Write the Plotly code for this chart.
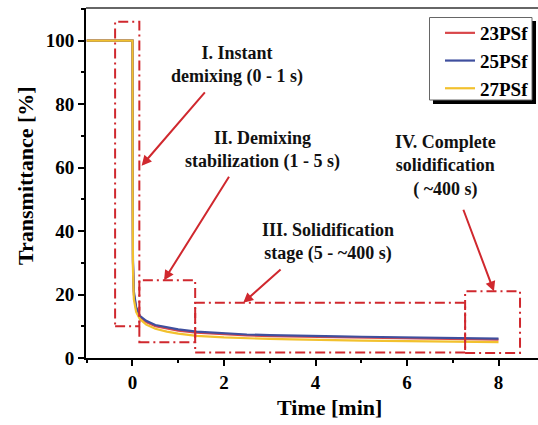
import plotly.graph_objects as go

# ---------------- data ----------------
time_min = [-1.0, 0.0, 0.004, 0.01, 0.03, 0.08, 0.16, 0.3, 0.5, 0.75, 1.0, 1.4,
            2.0, 2.5, 3.0, 3.5, 4.0, 4.5, 5.0, 5.5, 6.0, 6.5, 7.0, 7.5, 8.0]
psf23 = [100, 100, 55, 30, 20, 15.5, 13.0, 11.3, 10.0, 9.2, 8.6, 8.0,
         7.4, 7.1, 6.9, 6.8, 6.6, 6.5, 6.4, 6.3, 6.2, 6.1, 6.0, 5.9, 5.8]
psf25 = [100, 100, 57, 31, 21, 16.0, 13.3, 11.7, 10.4, 9.6, 9.0, 8.3,
         7.7, 7.4, 7.2, 7.0, 6.9, 6.8, 6.7, 6.6, 6.5, 6.4, 6.3, 6.2, 6.1]
psf27 = [100, 100, 52, 28, 18.5, 14.5, 12.3, 10.5, 9.2, 8.3, 7.7, 7.0,
         6.5, 6.2, 6.0, 5.9, 5.7, 5.6, 5.5, 5.4, 5.3, 5.3, 5.2, 5.1, 5.0]
series_names = ["23PSf", "25PSf", "27PSf"]

x_ticks = [0, 2, 4, 6, 8]
y_ticks = [0, 20, 40, 60, 80, 100]

# stage boxes: (x0, x1, y0, y1) in data units
stage_boxes = [(-0.38, 0.15, 10, 106), (0.15, 1.37, 5, 24.5),
               (1.37, 7.27, 1.7, 17.4), (7.27, 8.47, 1.6, 21.0)]
# arrows: (tail_x, tail_y, head_x, head_y)
stage_arrows = [(1.61, 84.2, 0.20, 60.6), (2.13, 57.6, 0.69, 24.5),
                (3.27, 28.3, 2.42, 17.4), (7.22, 47.2, 7.90, 21.0)]
stage_labels = [("I. Instant<br>demixing (0 - 1 s)", 2.28, 92.3),
                ("II. Demixing<br>stabilization (1 - 5 s)", 2.85, 65.5),
                ("III. Solidification<br>stage (5 - ~400 s)", 4.28, 36.5),
                ("IV. Complete<br>solidification<br>( ~400 s)", 6.85, 60.5)]

# ---------------- figure ----------------
W, H = 538, 425
L, R, T, B = 86, 0, 8, 67
FONT = "Liberation Serif, Times New Roman, Times, serif"
RED = "#d0282e"

colors = ["#d9474a", "#3f4f9e", "#f2c12e"]
fig = go.Figure()
for name, ys, c in zip(series_names, [psf23, psf25, psf27], colors):
    fig.add_trace(go.Scatter(x=time_min, y=ys, mode="lines", name="<b>" + name + "</b>",
                             line=dict(color=c, width=2.2)))

shapes = []
for x0, x1, y0, y1 in stage_boxes:
    shapes.append(dict(type="rect", xref="x", yref="y", x0=x0, x1=x1, y0=y0, y1=y1,
                       line=dict(color=RED, width=2, dash="10px,4px,2px,4px"),
                       fillcolor="rgba(0,0,0,0)", layer="above"))

pw, ph = W - L - R, H - T - B
def px2paper(px, py):
    return (px - L) / pw, (H - B - py) / ph

# legend frame with drop shadow
sx0, sy0 = px2paper(433, 104)
sx1, sy1 = px2paper(536, 21)
shapes.append(dict(type="rect", xref="paper", yref="paper", x0=sx0, x1=sx1, y0=sy0, y1=sy1,
                   fillcolor="black", line=dict(width=0), layer="above"))
bx0, by0 = px2paper(429.5, 100)
bx1, by1 = px2paper(532, 17.5)
shapes.append(dict(type="rect", xref="paper", yref="paper", x0=bx0, x1=bx1, y0=by0, y1=by1,
                   fillcolor="white", line=dict(color="#666", width=1), layer="above"))
# top frame line
shapes.append(dict(type="line", xref="paper", yref="paper", x0=0, x1=1, y0=1, y1=1,
                   line=dict(color="#333", width=1.5)))

annotations = []
for tx, ty, hx, hy in stage_arrows:
    annotations.append(dict(x=hx, y=hy, ax=tx, ay=ty, xref="x", yref="y",
                            axref="x", ayref="y", text="", showarrow=True,
                            arrowhead=2, arrowsize=1, arrowwidth=2, arrowcolor=RED))
for txt, x, y in stage_labels:
    annotations.append(dict(x=x, y=y, xref="x", yref="y", text="<b>" + txt + "</b>",
                            showarrow=False, font=dict(family=FONT, size=18, color="#111"),
                            align="center", xanchor="center", yanchor="middle"))

ax_, ay_ = px2paper(329, 407)
annotations.append(dict(x=ax_, y=ay_, xref="paper", yref="paper", text="<b>Time [min]</b>",
                        showarrow=False, xanchor="center", yanchor="middle",
                        font=dict(family=FONT, size=22, color="black")))
ax_, ay_ = px2paper(25, 176)
annotations.append(dict(x=ax_, y=ay_, xref="paper", yref="paper",
                        text="<b>Transmittance [%]</b>", textangle=-90,
                        showarrow=False, xanchor="center", yanchor="middle",
                        font=dict(family=FONT, size=22, color="black")))

lx, ly = px2paper(534, 14)
fig.update_layout(
    width=W, height=H, margin=dict(l=L, r=R, t=T, b=B),
    paper_bgcolor="white", plot_bgcolor="white",
    shapes=shapes, annotations=annotations,
    font=dict(family=FONT, color="black"),
    legend=dict(x=lx, y=ly, xanchor="right", yanchor="top",
                bgcolor="rgba(0,0,0,0)", borderwidth=0,
                font=dict(family=FONT, size=19, color="black"),
                tracegroupgap=0, itemwidth=30),
    xaxis=dict(range=[-1.016, 8.863], tickvals=x_ticks,
               ticktext=["<b>%d</b>" % v for v in x_ticks],
               ticks="outside", ticklen=6, tickwidth=2, tickcolor="black",
               showline=True, linewidth=2, linecolor="black", mirror=False,
               showgrid=False, zeroline=False,
               tickfont=dict(family=FONT, size=19, color="black"),
               minor=dict(dtick=1, tick0=1, ticks="outside", ticklen=3,
                          tickwidth=2, tickcolor="black", showgrid=False)),
    yaxis=dict(range=[0, 110.3], tickvals=y_ticks,
               ticktext=["<b>%d</b>" % v for v in y_ticks],
               ticks="outside", ticklen=6, tickwidth=2, tickcolor="black",
               showline=True, linewidth=2, linecolor="black",
               showgrid=False, zeroline=False,
               tickfont=dict(family=FONT, size=19, color="black"),
               minor=dict(dtick=10, tick0=0, ticks="outside", ticklen=3,
                          tickwidth=2, tickcolor="black", showgrid=False)),
)

fig.write_html("out.html")
